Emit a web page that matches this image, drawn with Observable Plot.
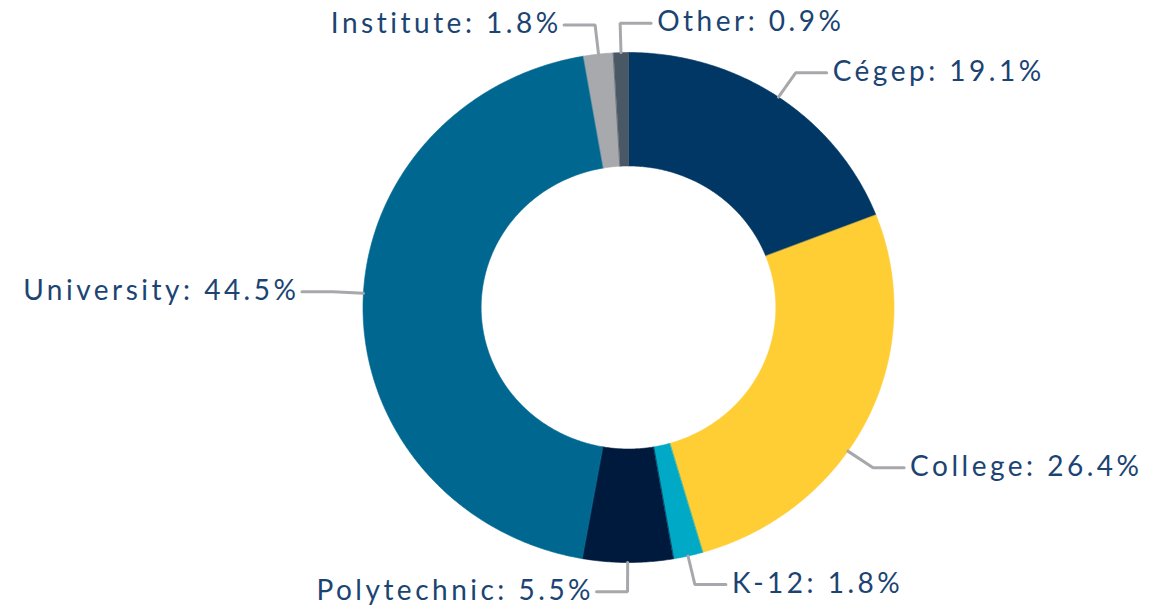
<!DOCTYPE html>
<html>
<head>
<meta charset="utf-8">
<script src="https://cdn.jsdelivr.net/npm/d3@7"></script>
<script src="https://cdn.jsdelivr.net/npm/@observablehq/plot@0.6"></script>
<style>
  html, body { margin: 0; padding: 0; background: #fff; }
  #chart svg { display: block; }
</style>
</head>
<body>
<div id="chart"></div>
<script>
// ---- data (clockwise from 12 o'clock) ----
const categories = ["Cégep", "College", "K-12", "Polytechnic", "University", "Institute", "Other"];
const shares = [19.1, 26.4, 1.8, 5.5, 44.5, 1.8, 0.9];

// ---- styling / layout ----
const palette = ["#003764", "#FFCD34", "#00A9C5", "#001A3D", "#006890", "#A7A9AC", "#4A5866"];
const leaderNudge = {"College": 8, "University": 3}; // degrees, leader-line angle tweaks
const W = 1160, H = 613;
const cx = 628, cy = 307, rxPx = 265.5, ryPx = 255;
const innerR = 0.555, elbowR = 1.115, tail = 31 / rxPx;
const spacing = 3.5;

const total = d3.sum(shares);
let acc = 0;
const slices = categories.map((c, i) => {
  const a0 = acc / total * 360;
  acc += shares[i];
  const a1 = acc / total * 360;
  return {cat: c, value: shares[i], a0, a1, mid: (a0 + a1) / 2};
});

const rad = d => d * Math.PI / 180;
const pt = (r, deg) => ({x: r * Math.sin(rad(deg)), y: r * Math.cos(rad(deg))});

// polygon points of each slice
const arcPts = [];
for (const s of slices) {
  const n = Math.max(2, Math.ceil((s.a1 - s.a0) / 0.5));
  for (let k = 0; k <= n; k++) arcPts.push({cat: s.cat, ...pt(1, s.a0 + (s.a1 - s.a0) * k / n)});
  for (let k = n; k >= 0; k--) arcPts.push({cat: s.cat, ...pt(innerR, s.a0 + (s.a1 - s.a0) * k / n)});
}

// leader lines & labels
const leaderPts = [];
const labels = [];
for (const s of slices) {
  const ang = s.mid + (leaderNudge[s.cat] || 0);
  const norm = ((ang % 360) + 360) % 360;
  const right = norm < 180 || norm > 355;
  const p0 = pt(1, ang), p1 = pt(elbowR, ang);
  const p2 = {x: p1.x + (right ? tail : -tail), y: p1.y};
  for (const p of [p0, p1, p2]) leaderPts.push({cat: s.cat, ...p});
  labels.push({cat: s.cat, x: p2.x, y: p2.y, right, text: `${s.cat}: ${s.value}%`});
}

const chart = Plot.plot({
  width: W, height: H,
  margin: 0,
  x: {domain: [-cx / rxPx, (W - cx) / rxPx], range: [0, W], axis: null},
  y: {domain: [-(H - cy) / ryPx, cy / ryPx], range: [H, 0], axis: null},
  color: {domain: categories, range: palette},
  style: {fontFamily: "Lato, 'Open Sans', sans-serif", background: "#fff", letterSpacing: spacing + "px"},
  marks: [
    Plot.line(arcPts, {x: "x", y: "y", z: "cat", fill: "cat", stroke: "cat", strokeWidth: 0.6, curve: "linear-closed"}),
    Plot.line(leaderPts, {x: "x", y: "y", z: "cat", stroke: "#A6A8AB", strokeWidth: 3, strokeLinejoin: "miter"}),
    Plot.text(labels.filter(d => d.right), {x: "x", y: "y", text: "text", textAnchor: "start", dx: 6, dy: -1, fontSize: 28, fill: "#1B4473"}),
    Plot.text(labels.filter(d => !d.right), {x: "x", y: "y", text: "text", textAnchor: "end", dx: -6 + spacing, dy: -1, fontSize: 28, fill: "#1B4473"})
  ]
});
document.getElementById("chart").appendChild(chart);
</script>
</body>
</html>
